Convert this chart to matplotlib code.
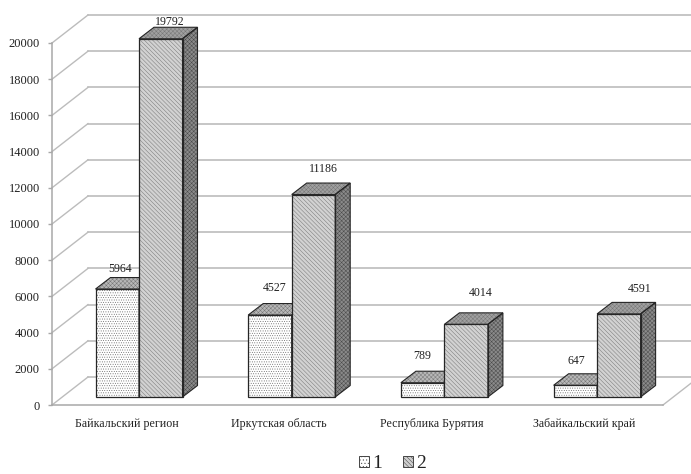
import matplotlib
matplotlib.use("Agg")
import matplotlib.pyplot as plt
from matplotlib.patches import Polygon, Patch

plt.rcParams['font.family'] = ['Liberation Serif', 'DejaVu Serif']
plt.rcParams['hatch.linewidth'] = 0.35

categories = ['Байкальский регион', 'Иркутская область', 'Республика Бурятия', 'Забайкальский край']
series_1 = [5964, 4527, 789, 647]
series_2 = [19792, 11186, 4014, 4591]
y_ticks = list(range(0, 20001, 2000))

W, H = 691, 474
L, R, B, T = 52, 663, 405, 43
STEP = 152.7      # px per category
BW = 43.5         # px bar width
X0 = 139          # px of first group's centre
PXV = (B - T) / 20000.0

fig = plt.figure(figsize=(W / 100, H / 100), dpi=100)
ax = fig.add_axes([L / W, 1 - B / H, (R - L) / W, (B - T) / H])
ax.set_xlim((L - X0) / STEP, (R - X0) / STEP)
ax.set_ylim(0, 20000)
px = 1 / STEP
py = 1 / PXV

# walls
GRID = '#bcbcbc'
wdx, wdy = 36 * px, 28 * py
xl, xr = ax.get_xlim()
xend = (W + 5 - X0) / STEP
for v in y_ticks:
    ax.plot([xl, xl + wdx], [v, v + wdy], color=GRID, lw=1.0, clip_on=False, zorder=1)
    ax.plot([xl + wdx, xend], [v + wdy, v + wdy], color=GRID, lw=1.2, clip_on=False, zorder=1)
ax.plot([xr, xr + wdx], [0, wdy], color=GRID, lw=1.0, clip_on=False, zorder=1)

# bars
ddx, ddy = 15 * px, 11.5 * py
base = 8 * py
bw = BW * px


def face(pts, color, hatch, hcolor, z):
    ax.add_patch(Polygon(pts, closed=True, facecolor=color, edgecolor=hcolor, lw=0,
                         hatch=hatch, clip_on=False, zorder=z))
    ax.add_patch(Polygon(pts, closed=True, fill=False, edgecolor='#262626', lw=0.8,
                         clip_on=False, zorder=z + 0.05))


def bar3d(x0, val, front, fh, fhc, top, side, z):
    ax.bar(x0, val, bw, bottom=base, align='edge', facecolor=front, edgecolor=fhc,
           hatch=fh, lw=0, clip_on=False, zorder=z)
    ax.bar(x0, val, bw, bottom=base, align='edge', fill=False, edgecolor='#262626',
           lw=0.9, clip_on=False, zorder=z + 0.3)
    x1 = x0 + bw
    yt = base + val
    face([(x0, yt), (x1, yt), (x1 + ddx, yt + ddy), (x0 + ddx, yt + ddy)],
         top, 'xxxxxxxx', '#777777', z + 0.1)
    face([(x1, base), (x1 + ddx, base + ddy), (x1 + ddx, yt + ddy), (x1, yt)],
         side, 'xxxxxxxx', '#4a4a4a', z + 0.1)


for i, (a, b) in enumerate(zip(series_1, series_2)):
    z = 3 + i
    bar3d(i - bw, a, 'white', '.......', '#666666', '#b8b8b8', '#8c8c8c', z)
    bar3d(i, b, '#d2d2d2', '\\\\\\\\\\\\\\\\', '#777777', '#a0a0a0', '#8a8a8a', z + 0.5)

# value labels: offsets from the front-top centre, in px
off_1 = [(3, 20), (5, 27), (0, 27), (1, 24)]
off_2 = [(9.5, 17), (9.5, 26), (15, 31), (21, 25)]
TXT = '#222222'
for i in range(4):
    for vals, off, cx in ((series_1, off_1, i - bw / 2), (series_2, off_2, i + bw / 2)):
        ax.annotate(str(vals[i]), (cx, base + vals[i]), xytext=(off[i][0] * .72, off[i][1] * .72),
                    textcoords='offset points', ha='center', va='center', fontsize=8.6,
                    color=TXT, annotation_clip=False, zorder=20)

# axes
for s in ('top', 'right'):
    ax.spines[s].set_visible(False)
for s in ('left', 'bottom'):
    ax.spines[s].set_color('#a8a8a8')
    ax.spines[s].set_linewidth(1.1)
ax.set_yticks(y_ticks)
ax.tick_params(axis='y', length=3.2, width=1, color='#a8a8a8', labelsize=9, labelcolor=TXT, pad=5.5)
ax.set_xticks([i - 12.5 * px for i in range(4)])
ax.set_xticklabels(categories)
ax.tick_params(axis='x', length=0, labelsize=8.6, labelcolor=TXT, pad=9)
ax.patch.set_alpha(0)

# legend
h = [Patch(facecolor='white', edgecolor='#444444', hatch='.....', lw=0.7, label='1'),
     Patch(facecolor='#cfcfcf', edgecolor='#444444', hatch='\\\\\\\\\\\\\\\\', lw=0.7, label='2')]
fig.legend(handles=h, ncol=2, loc='center', bbox_to_anchor=(392.5 / W, 1 - 464 / H), frameon=False,
           fontsize=14, handlelength=0.5, handleheight=0.5, handletextpad=0.15, columnspacing=1.1,
           labelcolor=TXT, borderpad=0)

fig.savefig('out.png', dpi=100, facecolor='white')
